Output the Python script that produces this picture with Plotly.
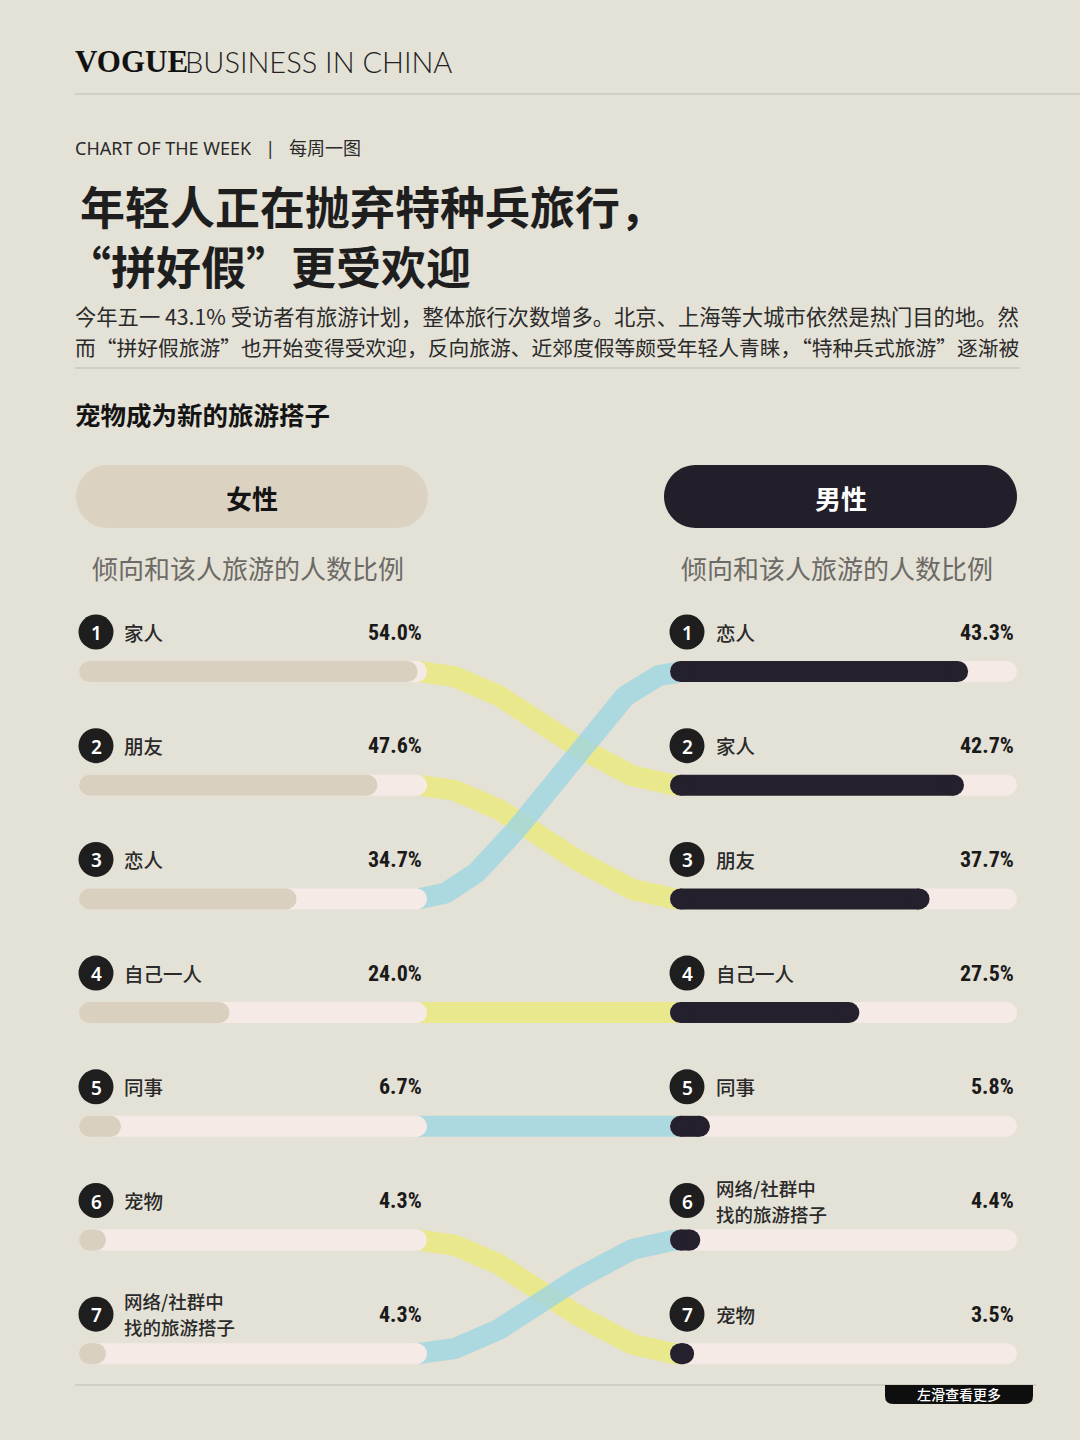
import numpy as np
import plotly.graph_objects as go

W, H = 1080, 1440

# ---------------- data ----------------
female_categories = ["家人", "朋友", "恋人", "自己一人", "同事", "宠物", "网络/社群中找的旅游搭子"]
female_values = [54.0, 47.6, 34.7, 24.0, 6.7, 4.3, 4.3]
male_categories = ["恋人", "家人", "朋友", "自己一人", "同事", "网络/社群中找的旅游搭子", "宠物"]
male_values = [43.3, 42.7, 37.7, 27.5, 5.8, 4.4, 3.5]
flow_colour_group = {"家人": "yellow", "朋友": "yellow", "恋人": "blue", "自己一人": "yellow",
                     "同事": "blue", "宠物": "yellow", "网络/社群中找的旅游搭子": "blue"}
ranks = [1, 2, 3, 4, 5, 6, 7]
LEFT_SCALE_MAX = 55.5
RIGHT_SCALE_MAX = 50.4

# ---------------- style ----------------
BG = "#E4E1D6"
PINK = "#F6EAE7"
BEIGE = "#D9D0BF"
DARK = "#24202C"
FLOW = {"yellow": "rgba(236,233,125,0.82)", "blue": "rgba(160,214,224,0.82)"}
CJK = "Noto Sans CJK SC"
ROW0, STEP = 671.5, 113.7
BAR_PX = 21
L_DOM = (79, 427)
R_DOM = (670, 1017)


def X(p):
    return p / W


def Y(p):
    return 1 - p / H


def label_lines(name):
    if len(name) > 6:
        k = name.index("社群中") + 3
        return [name[:k], name[k:]]
    return [name]


fig = go.Figure()

# flows (first subplot -> drawn below bars)
t = np.linspace(0, 1, 120)
s = (1 - np.cos(np.pi * t)) / 2
for i, cat in enumerate(female_categories):
    rl = ranks[i]
    rr = ranks[male_categories.index(cat)]
    fig.add_trace(go.Scatter(x=t, y=rl + (rr - rl) * s, mode="lines",
                             line=dict(color=FLOW[flow_colour_group[cat]], width=BAR_PX),
                             xaxis="x", yaxis="y", hoverinfo="skip", showlegend=False))


def pill_trace(values, axis, scale_max, dom, color):
    """Rounded bar: thick line between the cap centres + round caps (markers)."""
    r_units = (BAR_PX / 2) * scale_max / (dom[1] - dom[0])
    xs, ys = [], []
    for v, rk in zip(values, ranks):
        a = r_units
        b = max(v - r_units, r_units)
        xs += [a, b, None]
        ys += [rk, rk, None]
    return go.Scatter(x=xs, y=ys, mode="lines+markers", xaxis=axis, yaxis="y",
                      line=dict(color=color, width=BAR_PX),
                      marker=dict(color=color, size=BAR_PX, line_width=0),
                      hoverinfo="skip", showlegend=False, cliponaxis=False)


fig.add_trace(pill_trace([LEFT_SCALE_MAX] * 7, "x2", LEFT_SCALE_MAX, L_DOM, PINK))
fig.add_trace(pill_trace(female_values, "x2", LEFT_SCALE_MAX, L_DOM, BEIGE))
fig.add_trace(pill_trace([RIGHT_SCALE_MAX] * 7, "x3", RIGHT_SCALE_MAX, R_DOM, PINK))
fig.add_trace(pill_trace(male_values, "x3", RIGHT_SCALE_MAX, R_DOM, DARK))

shapes = []
ann = []


def text(x, y, s, size, color="#222", family=CJK, weight=400, xanchor="left", yanchor="middle"):
    ann.append(dict(x=X(x), y=Y(y), xref="paper", yref="paper", text=s, showarrow=False,
                    xanchor=xanchor, yanchor=yanchor, align="left" if xanchor == "left" else xanchor,
                    borderpad=0,
                    font=dict(size=size, color=color, family=family, weight=weight)))


def hline(x0, x1, y, color="#BEBBB1", width=1.2):
    shapes.append(dict(type="line", xref="paper", yref="paper", x0=X(x0), x1=X(x1), y0=Y(y), y1=Y(y),
                       line=dict(color=color, width=width)))


def pill(x0, y0, x1, y1, color):
    r = (y1 - y0) / 2
    k = 0.5523 * r
    pts = [
        f"M{X(x0 + r)},{Y(y0)}", f"L{X(x1 - r)},{Y(y0)}",
        f"C{X(x1 - r + k)},{Y(y0)} {X(x1)},{Y(y0 + r - k)} {X(x1)},{Y(y0 + r)}",
        f"C{X(x1)},{Y(y0 + r + k)} {X(x1 - r + k)},{Y(y1)} {X(x1 - r)},{Y(y1)}",
        f"L{X(x0 + r)},{Y(y1)}",
        f"C{X(x0 + r - k)},{Y(y1)} {X(x0)},{Y(y1 - r + k)} {X(x0)},{Y(y1 - r)}",
        f"C{X(x0)},{Y(y0 + r - k)} {X(x0 + r - k)},{Y(y0)} {X(x0 + r)},{Y(y0)}", "Z"]
    shapes.append(dict(type="path", xref="paper", yref="paper", path=" ".join(pts),
                       fillcolor=color, line=dict(width=0), layer="below"))


def circle(cx, cy, r, color):
    shapes.append(dict(type="circle", xref="paper", yref="paper", x0=X(cx - r), x1=X(cx + r),
                       y0=Y(cy + r), y1=Y(cy - r), fillcolor=color, line=dict(width=0)))


# header
text(74, 62, "VOGUE", 31, "#111", "Liberation Serif", 700)
text(184, 62, "BUSINESS IN CHINA", 29, "#222", "Lato", 300)
hline(75, 1080, 94)
text(74, 148, "CHART OF THE WEEK\u00a0\u00a0\u00a0|\u00a0\u00a0\u00a0每周一图", 18, "#2A2A2A", "Noto Sans, " + CJK, 400)
text(79, 206, "年轻人正在抛弃特种兵旅行，", 45, "#1E1E1E", CJK, 700)
text(65, 265, "“拼好假”更受欢迎", 45, "#1E1E1E", CJK, 700)
text(74, 315, "今年五一 43.1% 受访者有旅游计划，整体旅行次数增多。北京、上海等大城市依然是热门目的地。然",
     21.3, "#2A2A2A")
text(74, 347, "而“拼好假旅游”也开始变得受欢迎，反向旅游、近郊度假等颇受年轻人青睐，“特种兵式旅游”逐渐被",
     20.75, "#2A2A2A")
hline(75, 1020, 368)
text(74, 413, "宠物成为新的旅游搭子", 25.5, "#141414", CJK, 700)

# gender pills
pill(76, 465, 428, 528, "#DBD2C2")
pill(664, 465, 1017, 528, "#221E2A")
text(252, 497, "女性", 26, "#141414", CJK, 700, "center")
text(841, 497, "男性", 26, "#FFFFFF", CJK, 700, "center")
text(248, 567, "倾向和该人旅游的人数比例", 26, "#6C6A66", CJK, 400, "center")
text(837, 567, "倾向和该人旅游的人数比例", 26, "#6C6A66", CJK, 400, "center")

# row labels
for cats, vals, cx, lx, vx in [(female_categories, female_values, 96, 123, 423),
                               (male_categories, male_values, 687, 715, 1015)]:
    for i, (c, v) in enumerate(zip(cats, vals)):
        ly = ROW0 - 39.5 + (ranks[i] - 1) * STEP
        circle(cx, ly, 17.5, "#1F1E1E")
        text(cx, ly + 1, str(ranks[i]), 19, "#FFFFFF", "Noto Sans", 600, "center")
        lines = label_lines(c)
        n = len(lines)
        for j, ln in enumerate(lines):
            text(lx, ly + (j - (n - 1) / 2) * 26, ln, 19.5 if n == 1 else 18.5, "#2A2A2A", CJK, 500)
        text(vx, ly, f"{v:.1f}%", 22, "#1A1A1A", "Roboto Condensed, DejaVu Sans Condensed, Roboto", 700, "right")

# bottom
hline(75, 1036, 1385)
r = 8
tab = (f"M{X(885)},{Y(1385)} L{X(1033)},{Y(1385)} L{X(1033)},{Y(1404 - r)} "
       f"Q{X(1033)},{Y(1404)} {X(1033 - r)},{Y(1404)} L{X(885 + r)},{Y(1404)} "
       f"Q{X(885)},{Y(1404)} {X(885)},{Y(1404 - r)} Z")
shapes.append(dict(type="path", xref="paper", yref="paper", path=tab, fillcolor="#0E0E0E", line=dict(width=0)))
text(959, 1394, "左滑查看更多", 14, "#FFFFFF", CJK, 500, "center")

yr = [1 + (H - ROW0) / STEP, 1 - ROW0 / STEP]
hidden = dict(visible=False, showgrid=False, zeroline=False, fixedrange=True)
fig.update_layout(
    width=W, height=H, margin=dict(l=0, r=0, t=0, b=0, pad=0), autosize=False,
    paper_bgcolor=BG, plot_bgcolor="rgba(0,0,0,0)",
    showlegend=False, shapes=shapes, annotations=ann,
    xaxis=dict(domain=[418 / W, 682 / W], range=[0, 1], anchor="y", **hidden),
    xaxis2=dict(domain=[L_DOM[0] / W, L_DOM[1] / W], range=[0, LEFT_SCALE_MAX], anchor="y", **hidden),
    xaxis3=dict(domain=[R_DOM[0] / W, R_DOM[1] / W], range=[0, RIGHT_SCALE_MAX], anchor="y", **hidden),
    yaxis=dict(domain=[0, 1], range=yr, anchor="x", **hidden),
)
fig.write_html("out.html", config={"displayModeBar": False},
               post_script="document.body.style.margin='0';document.body.style.padding='0';")
